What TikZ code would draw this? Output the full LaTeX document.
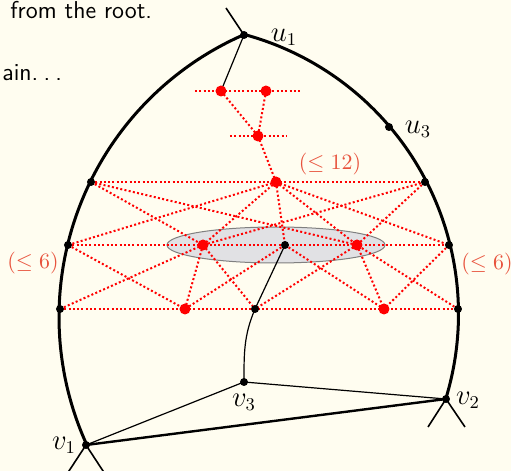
\documentclass[tikz,border=0pt]{standalone}
\usepackage{amsmath,amssymb}
\usepackage{tikz}
\usetikzlibrary{positioning,calc}
\definecolor{slidebg}{RGB}{255,253,240}
\definecolor{boundred}{RGB}{232,82,60}
\definecolor{discgray}{RGB}{225,225,228}
\tikzset{
  bdot/.style={circle,fill=black,inner sep=0pt,minimum size=4pt},
  rdot/.style={circle,fill=red,inner sep=0pt,minimum size=5.5pt},
  layeredge/.style={red,line width=1pt,dash pattern=on 1pt off 1.15pt},
  lbl/.style={font=\fontsize{13.5}{15}\selectfont,inner sep=0pt},
  bnd/.style={text=boundred,font=\fontsize{10.5}{12}\selectfont,inner sep=0pt},
  slidetext/.style={anchor=base west,font=\sffamily\fontsize{12.2}{14}\selectfont,inner sep=0pt}
}
\begin{document}
\begin{tikzpicture}[x=0.5pt,y=-0.5pt]
  \fill[slidebg] (0,0) rectangle (511,471);
  \useasboundingbox (0,0) rectangle (511,471);
  \clip (0,0) rectangle (511,471);
  % slide text
  \node[slidetext] (txt1) at (10,18.5) {from the root.};
  \node[slidetext] (txt2) at (2,81) {ain.\kern2.6pt.\kern2.6pt.};
  % points
  \coordinate (u1) at (244,35); \coordinate (u3) at (389,127); \coordinate (t1) at (226,8);
  \coordinate (r1) at (221,91); \coordinate (r2) at (266,91);
  \coordinate (r1w) at (195,91); \coordinate (r2e) at (302,91);
  \coordinate (r3) at (258,136); \coordinate (r3w) at (230,136); \coordinate (r3e) at (286,136);
  \coordinate (L1) at (91,182); \coordinate (m1) at (276,182); \coordinate (R1) at (425,182);
  \coordinate (L2) at (68,245); \coordinate (a2) at (203,245); \coordinate (c2) at (285,245);
  \coordinate (b2) at (357,245); \coordinate (R2) at (449,245);
  \coordinate (L3) at (60,309); \coordinate (d3) at (185,309); \coordinate (e3) at (255,309);
  \coordinate (f3) at (384,309); \coordinate (R3) at (458,309);
  \coordinate (v1) at (86,445); \coordinate (v2) at (446,399); \coordinate (v3) at (244,382);
  \coordinate (disc) at (276,245);
  % outer cycle
  \draw[line width=1.5pt,domain=155.4:246.4,samples=80,smooth,variable=\t] plot ({367+308*cos(\t)},{317+308*sin(\t)});
  \draw[line width=1.5pt,domain=-74.9:17.1,samples=80,smooth,variable=\t] plot ({169+289.5*cos(\t)},{314+289.5*sin(\t)});
  \draw[line width=1.2pt] (v1) -- (v2);
  \draw[line width=0.8pt] (u1) -- (t1);
  \draw[line width=0.8pt] (v1) -- ++(-19,29) (v1) -- ++(19,29);
  \draw[line width=0.8pt] (v2) -- ++(-18,28) (v2) -- ++(19,28);
  % separator disc
  \draw[gray,fill=discgray,line width=0.5pt] (disc) ellipse [x radius=54.5pt,y radius=9pt];
  % layers
  \draw[layeredge] (r1w) -- (r2e); \draw[layeredge] (r3w) -- (r3e);
  \draw[layeredge] (L1) -- (R1); \draw[layeredge] (L2) -- (R2); \draw[layeredge] (L3) -- (R3);
  \foreach \p/\q in {r1/r3,r2/r3,r3/m1,L1/a2,L1/b2,m1/L2,m1/a2,m1/c2,m1/b2,m1/R2,R1/b2,R1/a2,
                     L2/d3,L3/a2,a2/d3,a2/e3,c2/d3,c2/f3,b2/e3,b2/f3,R2/f3,R3/b2}
    \draw[layeredge] (\p) -- (\q);
  % tree paths
  \draw[line width=0.6pt] (u1) -- (r1);
  \draw[line width=0.6pt] (c2) -- (e3) to[out=-113,in=90] (v3);
  \draw[line width=0.6pt] (v3) -- (v1); \draw[line width=0.6pt] (v3) -- (v2);
  % vertices
  \foreach \n in {u1,u3,L1,R1,L2,c2,R2,L3,e3,R3,v1,v2,v3}
    \node[bdot] at (\n) {};
  \foreach \n in {r1,r2,r3,m1,a2,b2,d3,f3}
    \node[rdot] at (\n) {};
  % labels
  \node[lbl] (lu1) at (284,37) {$u_1$};
  \node[lbl] (lu3) at (418,129) {$u_3$};
  \node[lbl] (lv1) at (64,445) {$v_1$};
  \node[lbl] (lv2) at (468,400) {$v_2$};
  \node[lbl] (lv3) at (244,402) {$v_3$};
  \node[bnd] (b12) at (330,164) {$(\leq 12)$};
  \node[bnd] (b6l) at (33,263) {$(\leq 6)$};
  \node[bnd] (b6r) at (487,264) {$(\leq 6)$};
\end{tikzpicture}
\end{document}
